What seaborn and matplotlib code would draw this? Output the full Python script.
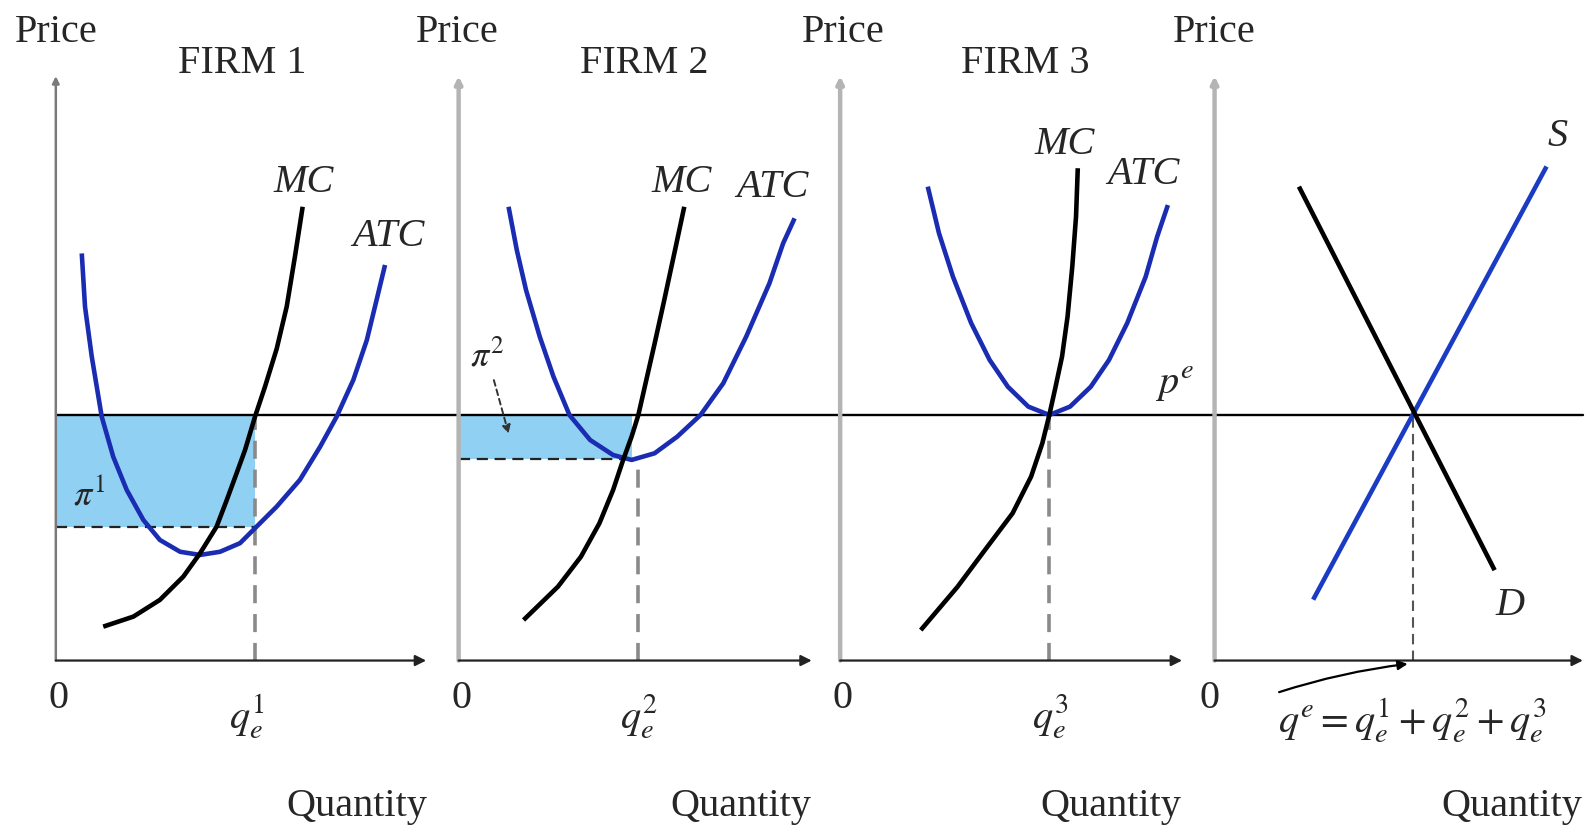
import matplotlib
matplotlib.use("Agg")
import matplotlib.pyplot as plt
import seaborn as sns

# ---- values (quantity, price); p^e = 10 ----
p_e = 10.0

atc1_q = [1.04, 1.17, 1.44, 1.84, 2.30, 2.84, 3.51, 4.17, 4.98, 5.78, 6.58, 7.38, 8.04,
          8.85, 9.78, 10.59, 11.25, 11.92, 12.46, 12.85, 13.19]
atc1_p = [16.58, 14.41, 12.38, 9.93, 8.30, 6.95, 5.72, 4.91, 4.43, 4.30, 4.43, 4.78, 5.45,
          6.27, 7.36, 8.71, 9.93, 11.43, 13.05, 14.68, 16.11]
mc1_q = [1.90, 3.11, 4.17, 5.11, 5.78, 6.44, 6.85, 7.24, 7.58, 7.98, 8.38, 8.85, 9.25, 9.58, 9.89]
mc1_p = [1.38, 1.79, 2.47, 3.42, 4.37, 5.45, 6.54, 7.62, 8.57, 9.93, 11.15, 12.70, 14.41, 16.45, 18.48]
q1_e, atc1_at_q = 8.0, 5.45

atc2_q = [2.00, 2.33, 2.70, 3.25, 3.80, 4.44, 5.27, 6.19, 6.93, 7.85, 8.76, 9.69, 10.60,
          11.52, 12.45, 13.00, 13.46]
atc2_p = [18.48, 16.72, 15.09, 13.19, 11.56, 10.00, 8.98, 8.37, 8.17, 8.44, 9.12, 10.00, 11.29,
          13.19, 15.36, 16.99, 18.01]
mc2_q = [2.60, 3.98, 4.90, 5.64, 6.19, 6.59, 6.93, 7.20, 7.48, 7.85, 8.21, 8.67, 9.04]
mc2_p = [1.65, 3.01, 4.23, 5.59, 6.95, 8.17, 9.12, 10.00, 11.25, 12.90, 14.55, 16.72, 18.48]
q2_e, atc2_min, profit2_q = 7.20, 8.2, 6.95

atc3_q = [3.51, 3.96, 4.52, 5.25, 5.99, 6.72, 7.54, 8.38, 9.21, 10.04, 10.77, 11.50, 12.24,
          12.70, 13.13]
atc3_p = [19.30, 17.40, 15.63, 13.74, 12.24, 11.15, 10.34, 10.00, 10.34, 11.15, 12.24, 13.74,
          15.63, 17.26, 18.55]
mc3_q = [3.23, 4.70, 5.80, 6.91, 7.65, 8.10, 8.38, 8.62, 8.89, 9.11, 9.30, 9.45, 9.52]
mc3_p = [1.24, 3.00, 4.50, 6.00, 7.49, 8.85, 10.00, 11.10, 12.38, 14.00, 16.04, 18.08, 20.05]
q3_e = 8.38

demand_q = [3.38, 11.22]
demand_p = [19.30, 3.68]
supply_q = [3.95, 13.30]
supply_p = [2.48, 20.12]
q_market = 7.95

sns.set_theme(style="white")
plt.rcParams["font.family"] = ["Liberation Serif", "DejaVu Serif"]
plt.rcParams["mathtext.fontset"] = "stix"

W, H = 1568.0, 819.0
UX, UY = 24.6, 24.2
BASE = 651.0
TOP_P = 24.0
BLUE = "#1a2db2"
SBLUE = "#1a3cc4"
SHADE = "#8fd0f3"
FS = 29
CURVE = dict(sort=False, estimator=None, lw=3.3, solid_joinstyle="round", solid_capstyle="butt")

fig = plt.figure(figsize=(15.91, 8.31), dpi=100)
fig.patch.set_facecolor("white")

panels = [(55, 452, 420), (452, 828, 800), (828, 1197, 1165), (1197, 1568, 1560)]
axes = []
for i, (l, r, xend) in enumerate(panels):
    ax = fig.add_axes([l / W, 1 - BASE / H, (r - l) / W, UY * TOP_P / H])
    ax.set_xlim(0, (r - l) / UX)
    ax.set_ylim(0, TOP_P)
    ax.axis("off")
    ycol = "#7a7a7a" if i == 0 else "#b4b4b4"
    ylw = 1.8 if i == 0 else 3.2
    ax.annotate("", xy=(0, 23.8), xytext=(0, 0),
                arrowprops=dict(arrowstyle="-|>", color=ycol, lw=ylw,
                                mutation_scale=10, shrinkA=0, shrinkB=0),
                annotation_clip=False)
    ax.annotate("", xy=((xend - l) / UX, 0), xytext=(0, 0),
                arrowprops=dict(arrowstyle="-|>", color="#222222", lw=1.6,
                                mutation_scale=16, shrinkA=0, shrinkB=0),
                annotation_clip=False)
    axes.append(ax)

ax1, ax2, ax3, ax4 = axes

# equilibrium price line across all panels
for ax, (l, r, xend) in zip(axes, panels):
    right = (1560 - l) / UX if r > 1560 else (r - l) / UX
    ax.plot([0, right], [p_e, p_e], color="black", lw=1.7, zorder=2, clip_on=False)

# firm 1
ax1.fill_between([0, q1_e], atc1_at_q, p_e, color=SHADE, lw=0, zorder=1)
ax1.plot([0, q1_e], [atc1_at_q, atc1_at_q], ls=(0, (5, 3)), color="#222222", lw=1.6, zorder=2)
ax1.plot([q1_e, q1_e], [0, p_e], ls=(0, (5, 3)), color="#8a8a8a", lw=2.6, zorder=2)
sns.lineplot(x=atc1_q, y=atc1_p, ax=ax1, color=BLUE, zorder=4, **CURVE)
sns.lineplot(x=mc1_q, y=mc1_p, ax=ax1, color="black", zorder=5, **CURVE)

# firm 2
ax2.fill_between([0, profit2_q], atc2_min, p_e, color=SHADE, lw=0, zorder=1)
ax2.plot([0, 6.7], [atc2_min, atc2_min], ls=(0, (5, 3)), color="#222222", lw=1.6, zorder=2)
ax2.plot([q2_e, q2_e], [0, atc2_min], ls=(0, (5, 3)), color="#8a8a8a", lw=2.6, zorder=2)
sns.lineplot(x=atc2_q, y=atc2_p, ax=ax2, color=BLUE, zorder=4, **CURVE)
sns.lineplot(x=mc2_q, y=mc2_p, ax=ax2, color="black", zorder=5, **CURVE)

# firm 3
ax3.plot([q3_e, q3_e], [0, p_e], ls=(0, (5, 3)), color="#8a8a8a", lw=2.6, zorder=2)
sns.lineplot(x=atc3_q, y=atc3_p, ax=ax3, color=BLUE, zorder=4, **CURVE)
sns.lineplot(x=mc3_q, y=mc3_p, ax=ax3, color="black", zorder=5, **CURVE)

# market
ax4.plot([q_market, q_market], [0, p_e], ls=(0, (5, 3)), color="#555555", lw=1.5, zorder=2)
sns.lineplot(x=supply_q, y=supply_p, ax=ax4, color=SBLUE, zorder=4, **CURVE)
sns.lineplot(x=demand_q, y=demand_p, ax=ax4, color="black", zorder=5, **CURVE)


def ftext(x, y, s, size=FS, **kw):
    fig.text(x / W, 1 - y / H, s, fontsize=size, ha="center", va="center", **kw)


for cx in [55, 451, 831, 1197]:
    ftext(cx, 32, "Price")
for cx, name in [(239, "FIRM 1"), (635, "FIRM 2"), (1010, "FIRM 3")]:
    ftext(cx, 63, name)
for cx in [352, 730, 1095, 1490]:
    ftext(cx, 795, "Quantity")
for cx in [58, 455, 830, 1192]:
    ftext(cx, 688, "0")

ftext(299, 180, "MC", style="italic")
ftext(383, 233, "ATC", style="italic")
ftext(672, 180, "MC", style="italic")
ftext(761, 185, "ATC", style="italic")
ftext(1049, 142, "MC", style="italic")
ftext(1127, 172, "ATC", style="italic")
ftext(1158, 378, r"$p^e$")
ftext(1535, 135, "S", style="italic")
ftext(1488, 597, "D", style="italic")

ftext(243, 706, r"$q_e^1$")
ftext(630, 706, r"$q_e^2$")
ftext(1035, 706, r"$q_e^3$")
ftext(1392, 710, r"$q^e = q_e^1 + q_e^2 + q_e^3$")
ftext(88, 488, r"$\pi^1$", size=26)
ftext(480, 352, r"$\pi^2$", size=26)

fig.add_artist(matplotlib.patches.FancyArrowPatch(
    (1258 / W, 1 - 683 / H), (1390 / W, 1 - 654 / H), transform=fig.transFigure,
    arrowstyle="-|>", mutation_scale=14, color="black", lw=1.6,
    connectionstyle="arc3,rad=-0.05"))
fig.add_artist(matplotlib.patches.FancyArrowPatch(
    (486 / W, 1 - 372 / H), (502 / W, 1 - 430 / H), transform=fig.transFigure,
    arrowstyle="-|>", mutation_scale=12, color="#333333", lw=1.4, ls=(0, (3, 2))))

fig.savefig("out.png", dpi=100, facecolor="white")
